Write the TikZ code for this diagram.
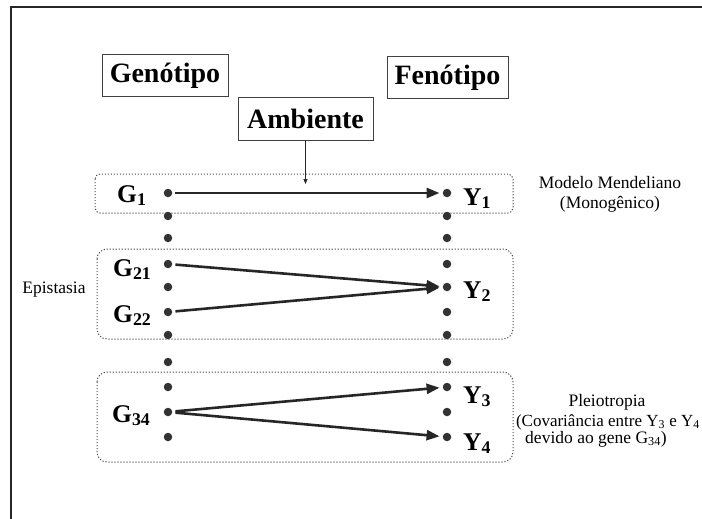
\documentclass[tikz,border=0pt]{standalone}
\usepackage{fontspec}
\setmainfont{Liberation Serif}
\usetikzlibrary{arrows.meta}

\tikzset{
  headbox/.style={draw=black!75, line width=1pt, inner sep=0pt,
    minimum height=42pt, font=\fontsize{28}{30}\selectfont\bfseries},
  locus/.style={circle, fill=black!80, draw=none, inner sep=0pt, minimum size=8.5pt},
  glabel/.style={anchor=base west, inner sep=0pt, font=\fontsize{25.5}{28}\selectfont\bfseries},
  note/.style={anchor=base, inner sep=0pt, font=\fontsize{17.5}{20}\selectfont},
  group/.style={draw=black!70, line width=1pt, dash pattern=on 1.2pt off 1.8pt},
  effect/.style={draw=black!85, line width=2.6pt, shorten <=3pt, shorten >=3pt,
    -{Triangle[length=13pt,width=10pt]}},
  frameline/.style={draw=black!85, line width=1.8pt}
}

\begin{document}
\begin{tikzpicture}[x=1pt, y=-1pt]
  \useasboundingbox (0,0) rectangle (702,519);

  % outer frame (top and left edges)
  \draw[frameline] (10,7) -- (702,7);
  \draw[frameline] (11,7) -- (11,519);

  % headings
  \node[headbox, minimum width=126pt] (gen) at (165,76) {Genótipo};
  \node[headbox, minimum width=121pt] (fen) at (447.5,78) {Fenótipo};
  \node[headbox, minimum width=135pt] (amb) at (305.5,119) {Ambiente};

  % groups
  \draw[group, rounded corners=5pt] (95,174) rectangle (513,213);
  \draw[group, rounded corners=10pt] (97,249) rectangle (513,339);
  \draw[group, rounded corners=10pt] (97,372) rectangle (513,462);

  % loci (genotype column) and traits (phenotype column)
  \foreach \i/\yy in {1/193, 2/216, 3/238, 4/264, 5/287, 6/312, 7/335,
                      8/362, 9/387, 10/412, 11/437} {
    \node[locus] (g\i) at (168,\yy) {};
    \node[locus] (y\i) at (447,\yy) {};
  }

  % labels
  \node[glabel] (lg1)  at (117,202) {G\textsubscript{1}};
  \node[glabel] (lg21) at (113,276) {G\textsubscript{21}};
  \node[glabel] (lg22) at (113,322) {G\textsubscript{22}};
  \node[glabel] (lg34) at (112,422) {G\textsubscript{34}};
  \node[glabel] (ly1)  at (463,205) {Y\textsubscript{1}};
  \node[glabel] (ly2)  at (463,298) {Y\textsubscript{2}};
  \node[glabel] (ly3)  at (463,403) {Y\textsubscript{3}};
  \node[glabel] (ly4)  at (463,450) {Y\textsubscript{4}};

  % effects
  \draw[effect] (g1) -- (y1);
  \draw[effect] (g4) -- (y5);
  \draw[effect] (g6) -- (y5);
  \draw[effect] (g10) -- (y9);
  \draw[effect] (g10) -- (y11);

  % environment influence
  \coordinate (envtip) at (305.5,184);
  \draw[draw=black!85, line width=0.9pt, -{Triangle[length=5pt,width=4pt]}]
    (amb.south) -- (envtip);

  % side notes
  \node[note] (mend1) at (610,188) {Modelo Mendeliano};
  \node[note] (mend2) at (610,208) {(Monogênico)};
  \node[note] (epi) at (54,293) {Epistasia};
  \node[note] (ple1) at (607,406) {Pleiotropia};
  \node[note, anchor=base east, font=\fontsize{17}{20}\selectfont] (ple2) at (700,426)
    {(Covariância entre Y\textsubscript{3} e Y\textsubscript{4}};
  \node[note] (ple3) at (596,443)
    {devido ao gene G\textsubscript{34})};
\end{tikzpicture}
\end{document}
